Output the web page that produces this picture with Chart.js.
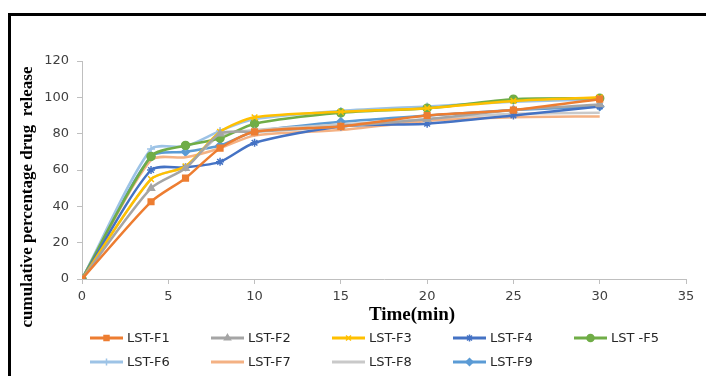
<!DOCTYPE html>
<html>
<head>
<meta charset="utf-8">
<script src="https://cdn.jsdelivr.net/npm/chart.js@4/dist/chart.umd.min.js"></script>
<style>
    html, body { margin: 0; padding: 0; background: #fff; overflow: hidden; }
    #wrap { position: relative; width: 706px; height: 376px; }
    #frame { position: absolute; left: 8px; top: 13px; width: 720px; height: 400px; border: 3px solid #000; box-sizing: border-box; }
    canvas { position: absolute; left: 0; top: 0; }
</style>
</head>
<body>
<div id="wrap">
    <div id="frame"></div>
    <canvas id="chartLiberacao" width="706" height="376"></canvas>
</div>
<script>
// dados
var tempos = [0, 4, 6, 8, 10, 15, 20, 25, 30];
var nomes = ["LST-F1", "LST-F2", "LST-F3", "LST-F4", "LST -F5", "LST-F6", "LST-F7", "LST-F8", "LST-F9"];
var lstF1 = [0, 42.5, 55.5, 72, 81, 84, 90, 93, 99];
var lstF2 = [0, 50, 61, 80, 81, 84, 88, 93, 96];
var lstF3 = [0, 55, 62, 81, 89, 92, 94, 98, 100];
var lstF4 = [0, 60, 61.5, 64.5, 75, 84, 85.5, 90, 95];
var lstF5 = [0, 67.5, 73.5, 77.5, 85.5, 91.5, 94, 99, 99.5];
var lstF6 = [0, 71.5, 73, 81.5, 88, 92.5, 95, 97.5, 99];
var lstF7 = [0, 65.5, 67, 72, 79, 82, 87, 89, 89.5];
var lstF8 = [0, 55, 62, 79, 82, 85, 88, 91, 91.5];
var lstF9 = [0, 67.5, 70, 73.5, 81, 86.5, 90, 93, 95];
var ticksX = [0, 5, 10, 15, 20, 25, 30, 35];
var ticksY = [0, 20, 40, 60, 80, 100, 120];

var series = [lstF1, lstF2, lstF3, lstF4, lstF5, lstF6, lstF7, lstF8, lstF9];
var cores = ['#ED7D31', '#A5A5A5', '#FFC000', '#4472C4', '#70AD47', '#9DC3E6', '#F4B183', '#C9C9C9', '#5B9BD5'];
var marcadores = ['rect', 'triangle', 'crossRot', 'star', 'circle', 'cross', false, false, 'rectRot'];

var datasets = series.map(function (valores, i) {
    return {
        label: nomes[i],
        data: valores.map(function (v, k) { return { x: tempos[k], y: v }; }),
        borderColor: cores[i],
        backgroundColor: cores[i],
        borderWidth: 2.5,
        tension: 0.25,
        pointStyle: marcadores[i] || 'circle',
        pointRadius: marcadores[i] ? 4 : 0,
        pointBorderWidth: 1.5
    };
});

// legenda e titulos desenhados a mao (estilo Excel: linha com marcador no meio)
var legendaPlugin = {
    id: 'legenda',
    afterDraw: function (chart) {
        var ctx = chart.ctx;
        ctx.save();
        chart.data.datasets.forEach(function (ds, i) {
            var x = 90 + (i % 5) * 121;
            var y = 338 + Math.floor(i / 5) * 24;
            ctx.strokeStyle = ds.borderColor;
            ctx.fillStyle = ds.borderColor;
            ctx.lineWidth = 3;
            ctx.beginPath();
            ctx.moveTo(x, y);
            ctx.lineTo(x + 33, y);
            ctx.stroke();
            if (marcadores[i] && Chart.helpers && Chart.helpers.drawPoint) {
                ctx.lineWidth = 1.5;
                Chart.helpers.drawPoint(ctx, { pointStyle: marcadores[i], radius: 3.5, borderWidth: 1.5, rotation: 0 }, x + 16.5, y);
            }
            ctx.fillStyle = '#262626';
            ctx.font = '13px "DejaVu Sans"';
            ctx.textAlign = 'left';
            ctx.textBaseline = 'middle';
            ctx.fillText(ds.label, x + 37, y + 1);
        });
        ctx.fillStyle = '#000';
        ctx.font = 'bold 19px "Liberation Serif"';
        ctx.textAlign = 'center';
        ctx.textBaseline = 'middle';
        ctx.fillText('Time(min)', 412, 315);

        ctx.translate(28, 197);
        ctx.rotate(-Math.PI / 2);
        ctx.font = 'bold 17px "Liberation Serif"';
        ctx.fillText('cumulative percentage drug  release', 0, 0);
        ctx.restore();
    }
};

var ctx = document.getElementById('chartLiberacao').getContext('2d');

var chart = new Chart(ctx, {
    type: 'line',
    data: { datasets: datasets },
    plugins: [legendaPlugin],
    options: {
        responsive: false,
        animation: false,
        layout: { padding: { left: 10, top: 61, right: 20, bottom: 67 } },
        plugins: { legend: { display: false }, tooltip: { enabled: false } },
        scales: {
            x: {
                type: 'linear',
                min: 0,
                max: 35,
                afterFit: function (scale) { scale.height = 30; },
                afterBuildTicks: function (scale) { scale.ticks = ticksX.map(function (v) { return { value: v }; }); },
                grid: { display: true, drawOnChartArea: false, tickLength: 5, color: '#BFBFBF' },
                border: { color: '#BFBFBF', width: 1 },
                ticks: { color: '#404040', font: { family: 'DejaVu Sans', size: 13 }, padding: 5, maxRotation: 0 }
            },
            y: {
                min: 0,
                max: 120,
                afterFit: function (scale) { scale.width = 72; },
                afterBuildTicks: function (scale) { scale.ticks = ticksY.map(function (v) { return { value: v }; }); },
                grid: { display: true, drawOnChartArea: false, tickLength: 5, color: '#BFBFBF' },
                border: { color: '#BFBFBF', width: 1 },
                ticks: { color: '#404040', font: { family: 'DejaVu Sans', size: 13 }, padding: 8 }
            }
        }
    }
});
</script>
</body>
</html>
